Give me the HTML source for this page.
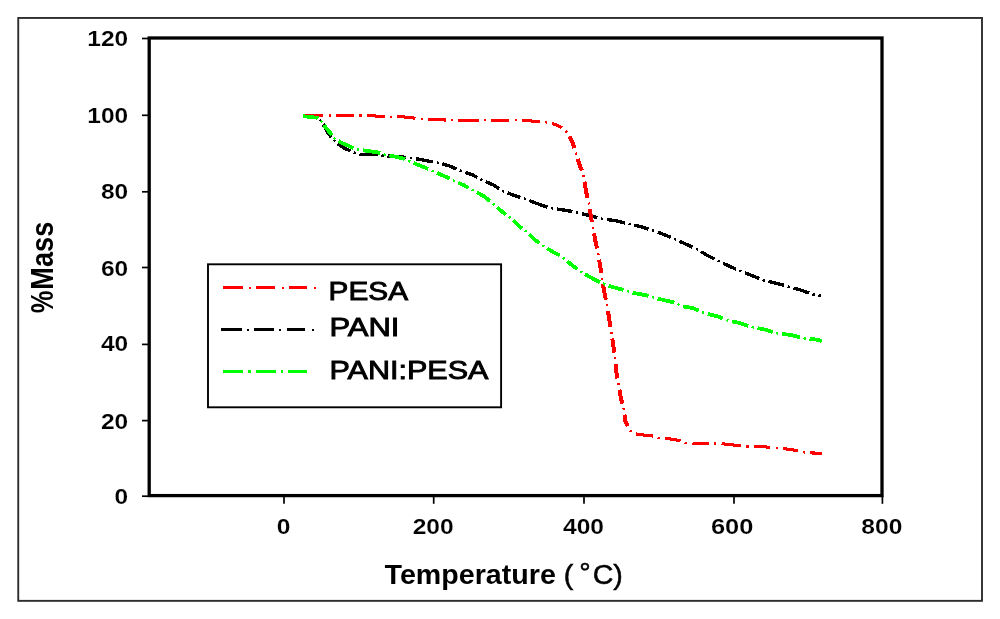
<!DOCTYPE html>
<html><head><meta charset="utf-8"><title>TGA chart</title>
<style>html,body{margin:0;padding:0;background:#fff}svg{display:block}</style></head>
<body>
<svg width="1000" height="619" viewBox="0 0 1000 619">
<defs><filter id="b" x="-5%" y="-20%" width="110%" height="140%"><feGaussianBlur stdDeviation="0.45"/></filter></defs>
<rect x="0" y="0" width="1000" height="619" fill="#fff"/>
<rect x="18.25" y="17.95" width="963.75" height="582.9" fill="none" stroke="#2e2e2e" stroke-width="1.9"/>
<g filter="url(#b)">
<rect x="149.2" y="38.0" width="732.8" height="457.6" fill="none" stroke="#000" stroke-width="3.3"/>
<line x1="142" y1="38.5" x2="149.2" y2="38.5" stroke="#000" stroke-width="1.7"/>
<line x1="142" y1="115.3" x2="149.2" y2="115.3" stroke="#000" stroke-width="1.7"/>
<line x1="142" y1="191.8" x2="149.2" y2="191.8" stroke="#000" stroke-width="1.7"/>
<line x1="142" y1="267.5" x2="149.2" y2="267.5" stroke="#000" stroke-width="1.7"/>
<line x1="142" y1="344.4" x2="149.2" y2="344.4" stroke="#000" stroke-width="1.7"/>
<line x1="142" y1="420.6" x2="149.2" y2="420.6" stroke="#000" stroke-width="1.7"/>
<line x1="142" y1="496.2" x2="149.2" y2="496.2" stroke="#000" stroke-width="1.7"/>
<line x1="284.0" y1="495.6" x2="284.0" y2="503.8" stroke="#000" stroke-width="1.7"/>
<line x1="433.7" y1="495.6" x2="433.7" y2="503.8" stroke="#000" stroke-width="1.7"/>
<line x1="584.0" y1="495.6" x2="584.0" y2="503.8" stroke="#000" stroke-width="1.7"/>
<line x1="734.0" y1="495.6" x2="734.0" y2="503.8" stroke="#000" stroke-width="1.7"/>
<line x1="882.4" y1="495.6" x2="882.4" y2="503.8" stroke="#000" stroke-width="1.7"/>
</g>
<g fill="none" stroke-linecap="butt" stroke-linejoin="round" shape-rendering="crispEdges">
<path d="M303.0 116.2 L317.0 117.5 L317.2 117.7 M323.1 124.4 L324.0 125.8 L328.0 133.1 L331.3 137.3 M337.7 143.7 L338.5 144.4 L345.0 148.5 L350.6 151.0 M359.5 154.3 L367.0 154.5 L375.6 154.3 L377.9 154.8 M387.5 155.8 L388.5 155.9 L400.0 156.8 L406.4 157.4 M416.0 158.7 L417.6 159.0 L429.0 161.2 L433.0 161.8 M442.4 163.9 L445.0 164.6 L449.4 165.9 L456.6 169.0 M465.5 172.4 L472.0 174.6 L477.2 177.4 M485.7 181.7 L493.0 184.8 L499.1 188.6 M507.5 192.8 L514.4 195.5 L520.4 197.4 M529.4 200.5 L536.6 203.4 L547.4 207.1 M556.8 209.0 L560.0 209.5 L568.0 210.7 L572.4 211.5 M581.8 213.6 L589.1 215.5 L597.3 217.6 M606.8 219.5 L614.9 220.6 L624.9 222.9 M634.3 225.1 L642.4 227.2 L648.6 229.1 M657.7 232.2 L665.0 234.9 L670.8 237.4 M679.5 241.2 L687.6 244.9 L692.6 247.2 M701.0 251.6 L708.2 255.9 L714.6 259.1 M723.1 263.3 L728.8 266.0 L736.1 269.2 M744.9 272.8 L752.2 275.7 L759.3 278.6 M768.4 281.5 L775.6 283.2 L784.1 285.4 M793.4 288.0 L801.5 290.3 L809.0 293.1 M818.4 295.2 L820.9 295.6" stroke="#000" stroke-width="3.4"/><path d="M319.8 120.0 L321.0 121.0 L321.3 121.5 M333.5 139.9 L335.1 141.3 M353.9 152.5 L354.6 152.8 L356.0 153.2 M381.5 155.5 L383.8 155.6 M410.1 157.8 L410.4 157.8 L412.3 158.1 M436.7 162.4 L437.0 162.4 L438.8 162.9 M459.9 170.5 L460.7 170.8 L462.0 171.2 M480.4 179.2 L482.4 180.2 M502.2 190.5 L503.5 191.3 L504.1 191.5 M523.9 198.5 L526.0 199.2 M550.9 208.0 L553.1 208.4 M576.0 212.2 L576.2 212.2 L578.2 212.7 M600.9 218.5 L602.0 218.8 L603.1 219.0 M628.5 223.7 L629.5 223.9 L630.7 224.2 M652.2 230.2 L652.9 230.4 L654.3 230.9 M674.1 238.9 L676.2 239.7 M695.9 248.8 L697.9 249.7 M717.8 260.8 L718.3 261.0 L719.8 261.7 M739.4 270.6 L740.1 270.9 L741.5 271.5 M762.7 280.0 L763.5 280.3 L764.8 280.6 M787.7 286.4 L788.5 286.6 L789.9 287.0 M812.5 294.3 L814.7 294.6" stroke="#000" stroke-width="2.4"/>
<path d="M303.0 115.5 L323.3 115.4 M336.0 115.3 L345.0 115.3 L354.0 115.4 M366.7 115.5 L370.0 115.5 L382.0 116.6 L384.7 116.6 M397.4 116.7 L403.0 116.8 L413.0 118.0 L415.5 118.2 M428.1 119.3 L429.0 119.4 L445.0 120.0 L445.6 120.0 M458.3 120.1 L478.0 120.2 L478.7 120.2 M491.4 120.2 L507.0 120.2 L509.4 120.2 M522.1 120.3 L524.0 120.3 L535.0 121.3 L539.6 121.7 M552.0 123.7 L554.4 124.2 L560.0 126.5 L561.9 127.7 M635.9 433.8 L637.5 434.3 L645.6 435.3 L652.8 436.0 M665.0 438.5 L669.9 438.9 L679.5 440.5 L680.4 440.9 M692.5 443.3 L694.1 443.4 L708.6 443.7 L708.8 443.7 M721.5 443.8 L723.9 443.9 L738.5 445.6 L741.2 445.9 M753.8 446.3 L756.2 446.3 L769.2 447.2 L770.3 447.3 M782.9 448.6 L785.3 448.8 L796.6 450.4 L798.0 450.8 M810.4 452.9 L812.8 453.0 L821.7 453.3" stroke="#ff0000" stroke-width="3.1"/><path d="M328.5 115.4 L330.8 115.4 M359.2 115.4 L361.5 115.4 M389.9 116.7 L392.2 116.7 M420.7 118.7 L422.9 118.9 M450.8 120.0 L453.1 120.0 M483.9 120.2 L486.2 120.2 M514.6 120.2 L516.9 120.3 M544.7 122.2 L546.0 122.3 L547.0 122.5 M565.6 130.8 L566.9 132.4 M657.6 437.7 L658.5 438.0 L659.8 438.1 M685.1 442.8 L685.2 442.9 L687.3 443.0 M714.0 443.6 L715.9 443.6 L716.3 443.6 M746.3 446.5 L746.5 446.5 L748.6 446.5 M775.5 447.8 L775.6 447.8 L777.7 448.0 M803.0 452.1 L804.7 452.5 L805.2 452.5" stroke="#ff0000" stroke-width="2.4"/>
<path d="M569.6 136.3 L573.0 143.6 L574.4 148.2 M577.7 159.0 L579.4 164.6 L581.9 170.7 M584.4 181.6 L585.9 190.5 L587.4 198.1 M589.9 209.1 L590.7 215.5 L591.9 222.2 M594.0 233.3 L595.5 241.4 L597.0 248.6 M599.1 259.6 L600.4 267.2 L601.1 273.1 M602.9 284.2 L604.4 292.3 L605.9 299.8 M608.0 310.9 L609.3 319.8 L610.6 327.3 M612.3 338.4 L613.3 345.6 L614.2 352.6 M615.5 363.7 L616.2 371.0 L617.5 378.5 M619.4 389.6 L620.6 396.8 L622.3 403.6 M624.5 414.6 L625.4 421.1 L627.7 426.2" stroke="#ff0000" stroke-width="4.0"/><path d="M575.8 152.6 L576.2 154.1 L576.3 154.6 M583.2 175.1 L583.6 177.1 M588.8 202.6 L589.1 203.4 L589.2 204.5 M592.8 226.8 L593.1 228.5 L593.1 228.8 M598.0 253.1 L598.4 255.0 M601.7 277.7 L602.1 279.7 M606.9 304.4 L607.3 306.3 M611.4 331.8 L611.4 331.9 L611.7 333.8 M614.8 357.1 L614.9 357.7 L615.0 359.1 M618.4 383.1 L618.5 383.9 L618.7 385.0 M623.5 408.1 L623.8 409.4 L623.9 410.0 M630.0 430.3 L631.1 432.1" stroke="#ff0000" stroke-width="2.4"/>
<path d="M303.0 116.2 L317.5 117.8 L318.0 118.3 M323.9 125.0 L326.3 128.3 L330.4 133.1 L331.9 135.0 M338.5 141.1 L341.7 142.8 L350.6 146.8 L353.4 147.9 M362.7 150.2 L367.5 150.9 L377.2 152.3 L380.1 153.1 M389.4 155.5 L395.0 156.6 L403.0 158.4 L404.9 159.2 M413.6 163.0 L417.6 164.6 L425.7 167.9 L428.3 169.0 M437.0 172.9 L440.2 174.3 L448.3 177.9 L449.7 178.6 M458.3 182.6 L464.7 185.7 L468.6 187.9 M476.8 192.4 L484.5 196.5 L490.0 201.1 M497.0 207.1 L501.9 211.5 L506.0 214.6 M513.2 220.4 L518.9 226.0 L522.2 228.4 M529.4 234.2 L535.8 240.6 L539.4 243.1 M547.1 248.4 L554.4 252.7 L560.0 255.5 L560.0 255.5 M567.3 261.2 L573.0 266.0 L577.3 269.1 M585.1 274.2 L592.3 278.3 L599.7 282.2 M608.5 285.8 L621.4 289.4 L623.5 290.0 M632.7 292.6 L634.3 293.1 L647.2 295.5 L648.5 295.9 M657.7 298.6 L658.5 298.8 L673.1 302.3 L674.0 302.7 M682.8 306.4 L691.6 307.8 L697.3 309.8 L698.9 310.6 M707.8 313.9 L708.6 314.1 L715.0 315.8 L719.1 316.9 L722.9 318.5 M732.0 321.4 L740.1 323.1 L748.2 325.8 M757.5 328.2 L765.1 329.6 L772.7 332.0 M782.1 334.0 L791.0 334.9 L800.0 337.3 M809.5 338.9 L816.0 339.5 L821.7 340.9" stroke="#00ff00" stroke-width="3.8"/><path d="M320.4 120.7 L321.5 121.8 L321.9 122.3 M334.0 137.7 L335.2 139.3 L335.3 139.4 M356.9 149.2 L357.9 149.6 L359.0 149.8 M383.6 154.2 L385.3 154.7 L385.8 154.8 M408.2 160.8 L408.7 161.0 L410.2 161.6 M431.6 170.5 L432.3 170.8 L433.7 171.4 M453.0 180.1 L453.4 180.3 L455.0 181.1 M471.7 189.6 L473.6 190.7 M492.8 203.3 L493.8 204.2 L494.4 204.7 M508.9 216.7 L510.6 218.0 M525.1 230.6 L526.8 231.8 M542.3 245.2 L544.1 246.4 M562.8 257.7 L564.5 259.0 M580.2 271.2 L582.0 272.4 M603.0 283.6 L605.1 284.5 M627.0 291.0 L629.2 291.6 M652.0 296.9 L654.2 297.5 M677.4 304.1 L679.4 305.0 M702.1 312.3 L702.1 312.3 L704.2 312.9 M726.3 320.0 L727.2 320.4 L728.4 320.6 M751.7 327.0 L752.2 327.2 L753.9 327.5 M776.2 333.1 L778.0 333.6 L778.4 333.6 M803.6 338.2 L804.7 338.5 L805.8 338.6" stroke="#00ff00" stroke-width="2.4"/>
</g>
<g filter="url(#b)">
<rect x="208.0" y="264.3" width="293.1" height="143.0" fill="#fff" stroke="#000" stroke-width="1.9"/>
</g>
<g shape-rendering="crispEdges">
<path d="M223.2 287.9 H243.4 M256.0 287.9 H275.4 M289.0 287.9 H307.4" stroke="#ff0000" stroke-width="2.9" fill="none"/><path d="M248.5 287.9 h2.2 M281.7 287.9 h2.2 M313.9 287.9 h2.2" stroke="#ff0000" stroke-width="2.2" fill="none"/>
<path d="M221.4 329.8 H241.5 M254.2 329.8 H273.9 M286.6 329.8 H304.8" stroke="#000" stroke-width="3.0" fill="none"/><path d="M246.7 329.8 h2.2 M279.1 329.8 h2.2 M311.9 329.8 h2.2" stroke="#000" stroke-width="2.2" fill="none"/>
<path d="M223.2 371.4 H243.0 M255.9 371.4 H275.8 M288.3 371.4 H306.6" stroke="#00ff00" stroke-width="3.4" fill="none"/><path d="M248.3 371.4 h2.2 M280.9 371.4 h2.2" stroke="#00ff00" stroke-width="2.2" fill="none"/>
</g>
<g filter="url(#b)" fill="#000">
<text transform="translate(128.2,45.7) scale(1.085,1)" font-size="22.6" font-weight="bold" text-anchor="end" font-family="Liberation Sans, sans-serif" stroke="#fff" stroke-width="0.14">120</text>
<text transform="translate(128.2,122.89999999999999) scale(1.085,1)" font-size="22.6" font-weight="bold" text-anchor="end" font-family="Liberation Sans, sans-serif" stroke="#fff" stroke-width="0.14">100</text>
<text transform="translate(128.2,199.29999999999998) scale(1.085,1)" font-size="22.6" font-weight="bold" text-anchor="end" font-family="Liberation Sans, sans-serif" stroke="#fff" stroke-width="0.14">80</text>
<text transform="translate(128.2,275.5) scale(1.085,1)" font-size="22.6" font-weight="bold" text-anchor="end" font-family="Liberation Sans, sans-serif" stroke="#fff" stroke-width="0.14">60</text>
<text transform="translate(128.2,351.20000000000005) scale(1.085,1)" font-size="22.6" font-weight="bold" text-anchor="end" font-family="Liberation Sans, sans-serif" stroke="#fff" stroke-width="0.14">40</text>
<text transform="translate(128.2,428.5) scale(1.085,1)" font-size="22.6" font-weight="bold" text-anchor="end" font-family="Liberation Sans, sans-serif" stroke="#fff" stroke-width="0.14">20</text>
<text transform="translate(128.2,503.8) scale(1.085,1)" font-size="22.6" font-weight="bold" text-anchor="end" font-family="Liberation Sans, sans-serif" stroke="#fff" stroke-width="0.14">0</text>
<text transform="translate(283.5,534.4) scale(1.09,1)" font-size="22.6" font-weight="bold" text-anchor="middle" font-family="Liberation Sans, sans-serif" stroke="#fff" stroke-width="0.14">0</text>
<text transform="translate(433.2,534.4) scale(1.09,1)" font-size="22.6" font-weight="bold" text-anchor="middle" font-family="Liberation Sans, sans-serif" stroke="#fff" stroke-width="0.14">200</text>
<text transform="translate(583.5,534.4) scale(1.09,1)" font-size="22.6" font-weight="bold" text-anchor="middle" font-family="Liberation Sans, sans-serif" stroke="#fff" stroke-width="0.14">400</text>
<text transform="translate(732.2,534.4) scale(1.12815,1)" font-size="22.6" font-weight="bold" text-anchor="middle" font-family="Liberation Sans, sans-serif" stroke="#fff" stroke-width="0.14">600</text>
<text transform="translate(881.9,534.4) scale(1.09,1)" font-size="22.6" font-weight="bold" text-anchor="middle" font-family="Liberation Sans, sans-serif" stroke="#fff" stroke-width="0.14">800</text>
<text transform="translate(384.6,584.0) scale(1.06,1)" font-size="27" font-weight="bold" font-family="Liberation Sans, sans-serif">Temperature <tspan font-weight="normal" stroke="#000" stroke-width="0.5">( <tspan dx="-1.8" dy="-1.6">°</tspan><tspan dx="1.8" dy="1.6">C)</tspan></tspan></text>
<text transform="translate(52.7,313.3) rotate(-90) scale(1.04,1.25)" font-size="24.5" font-weight="bold" font-family="Liberation Sans, sans-serif">%</text>
<text transform="translate(52.7,289.7) rotate(-90) scale(1.11,1.25)" font-size="24.5" font-weight="bold" font-family="Liberation Sans, sans-serif">Mass</text>
<text transform="translate(328.6,299.9) scale(1.145,1)" font-size="26" font-weight="normal" text-anchor="start" font-family="Liberation Sans, sans-serif" stroke="#000" stroke-width="0.9">PESA</text>
<text transform="translate(329.4,336.0) scale(1.193,1)" font-size="26" font-weight="normal" text-anchor="start" font-family="Liberation Sans, sans-serif" stroke="#000" stroke-width="0.9">PANI</text>
<text transform="translate(329.4,379.4) scale(1.175,1)" font-size="26" font-weight="normal" text-anchor="start" font-family="Liberation Sans, sans-serif" stroke="#000" stroke-width="0.9">PANI:PESA</text>
</g>
</svg>
</body></html>
